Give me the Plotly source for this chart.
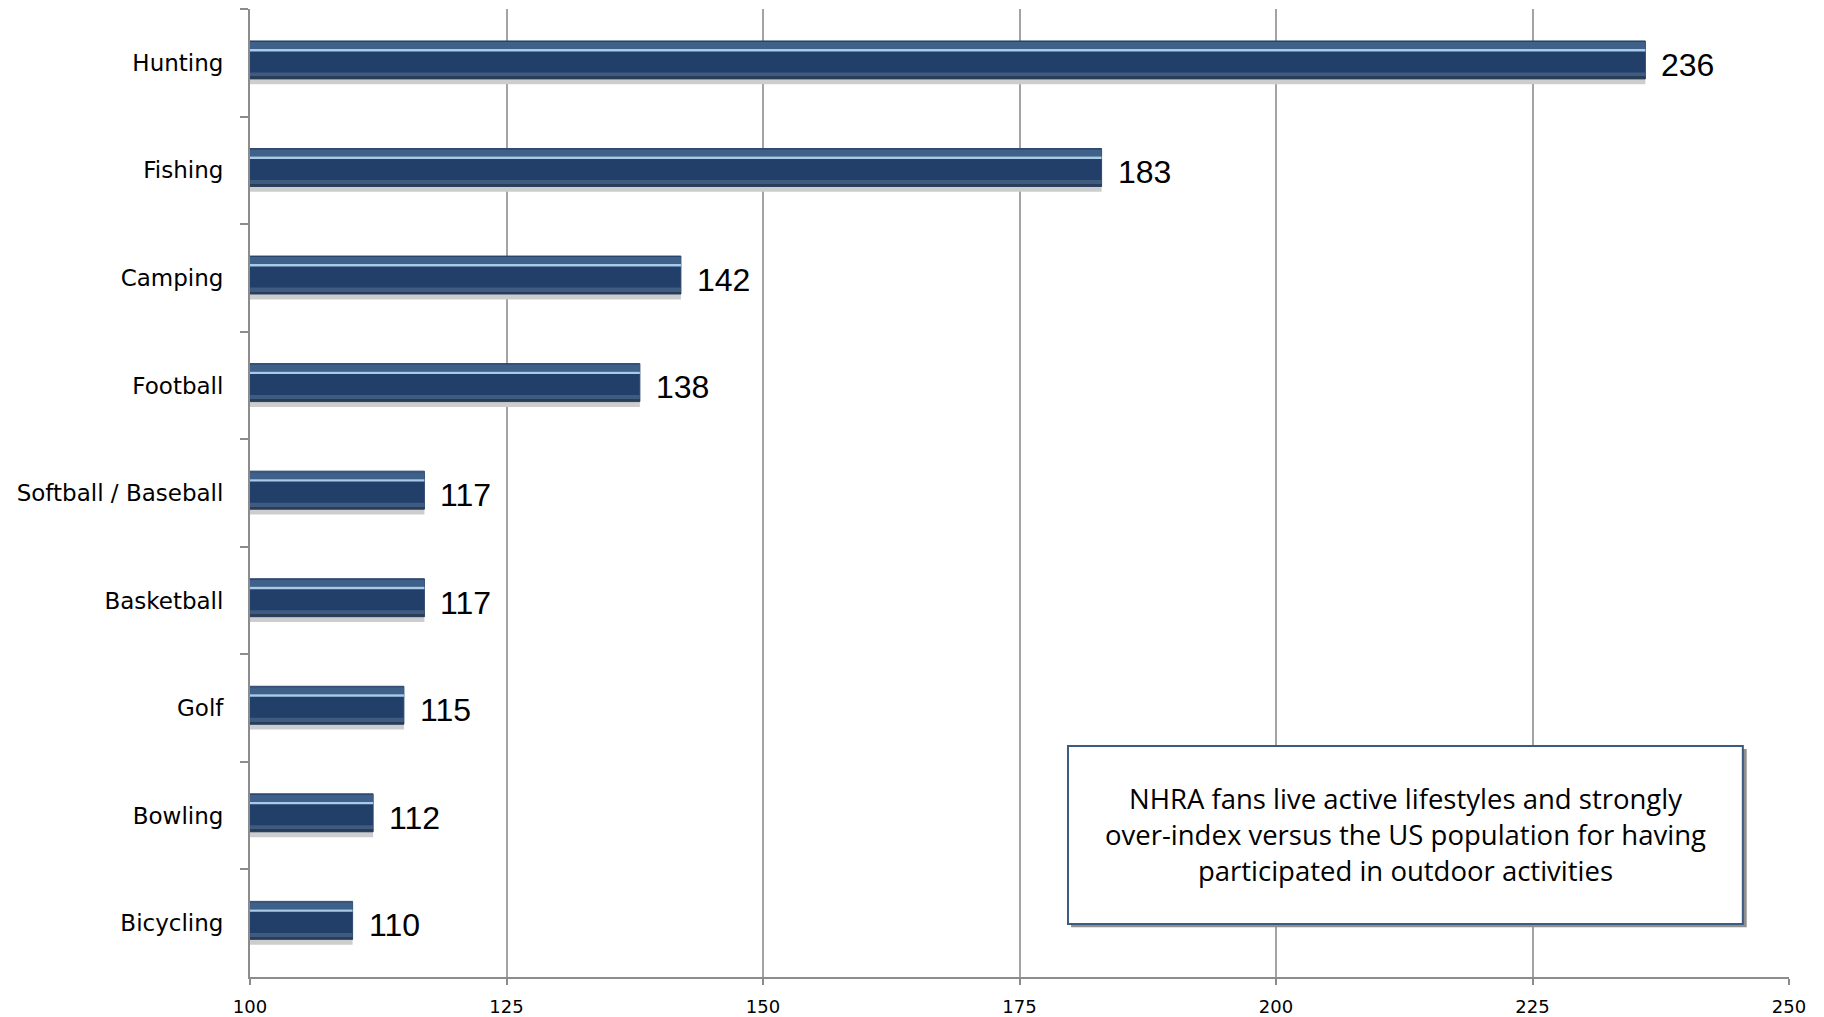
import plotly.graph_objects as go

categories = ["Hunting", "Fishing", "Camping", "Football", "Softball / Baseball",
              "Basketball", "Golf", "Bowling", "Bicycling"]
values = [236, 183, 142, 138, 117, 117, 115, 112, 110]
x_ticks = [100, 125, 150, 175, 200, 225, 250]
note_text = ("NHRA fans live active lifestyles and strongly<br>"
             "over-index versus the US population for having<br>"
             "participated in outdoor activities")

fig = go.Figure()

# layered bars to imitate the bevelled look
layers = [
    # (color, offset, width)
    ("#cdcdcd", -0.18, 0.38),    # soft shadow
    ("#213f69", -0.203, 0.353),  # body
    ("#3f6089", -0.194, 0.066),  # upper bevel
    ("#a9cbe8", -0.128, 0.022),  # highlight stripe
    ("#3f5b80", 0.09, 0.042),    # lower bevel
    ("#2a3d57", 0.132, 0.018),   # bottom edge
]
for i, (col, off, w) in enumerate(layers):
    is_body = (i == 1)
    fig.add_trace(go.Bar(
        y=categories, x=values, orientation="h",
        offset=off, width=w,
        marker=dict(color=col,
                    line=dict(color="#2e4a70" if is_body else col, width=1 if is_body else 0)),
        hoverinfo="x+y" if is_body else "skip",
        showlegend=False,
    ))

# value labels
for cat, v in zip(categories, values):
    fig.add_annotation(x=v, y=cat, text=str(v), showarrow=False,
                       xanchor="left", yanchor="middle", xshift=14, yshift=-2,
                       font=dict(family="Liberation Sans, Arial, sans-serif", size=32, color="#000000"))

fig.update_layout(
    width=1824, height=1017,
    barmode="overlay",
    paper_bgcolor="white", plot_bgcolor="white",
    margin=dict(l=242, r=43, t=1, b=48),
    font=dict(family="Liberation Sans, Arial, sans-serif", color="#000000"),
)

fig.update_xaxes(
    range=[100, 250], tickvals=x_ticks, ticktext=[str(t) for t in x_ticks],
    showgrid=True, gridcolor="#a3a3a3", gridwidth=1.5,
    showline=True, linecolor="#8c8c8c", linewidth=2,
    ticks="outside", ticklen=6, tickcolor="#8c8c8c", tickwidth=2,
    tickfont=dict(size=18, family="DejaVu Sans, Verdana, sans-serif"),
    ticklabelstandoff=6,
    zeroline=False,
)
fig.update_yaxes(
    categoryorder="array", categoryarray=categories, autorange="reversed",
    showline=True, linecolor="#8c8c8c", linewidth=2,
    ticks="outside", ticklen=8, tickcolor="#8c8c8c", tickwidth=2,
    tickson="boundaries", showgrid=False,
    tickfont=dict(size=23, family="DejaVu Sans, Verdana, sans-serif"),
    ticklabelstandoff=20,
)

# note box with shadow
bx0, bx1, by0, by1 = 0.5315, 0.970, 0.0548, 0.2386
fig.add_shape(type="rect", xref="paper", yref="paper",
              x0=bx0 + 0.002, x1=bx1 + 0.0025, y0=by0 - 0.0035, y1=by1 - 0.003,
              fillcolor="#8f8f8f", line=dict(width=0), layer="above")
fig.add_shape(type="rect", xref="paper", yref="paper",
              x0=bx0, x1=bx1, y0=by0, y1=by1,
              fillcolor="white", line=dict(color="#3d5a80", width=2), layer="above")
fig.add_annotation(xref="paper", yref="paper", x=(bx0 + bx1) / 2, y=(by0 + by1) / 2,
                   text=note_text, showarrow=False, align="center",
                   font=dict(family="Open Sans, sans-serif", size=27.5, color="#000000"),
                   xanchor="center", yanchor="middle")

fig.write_html("out.html")
